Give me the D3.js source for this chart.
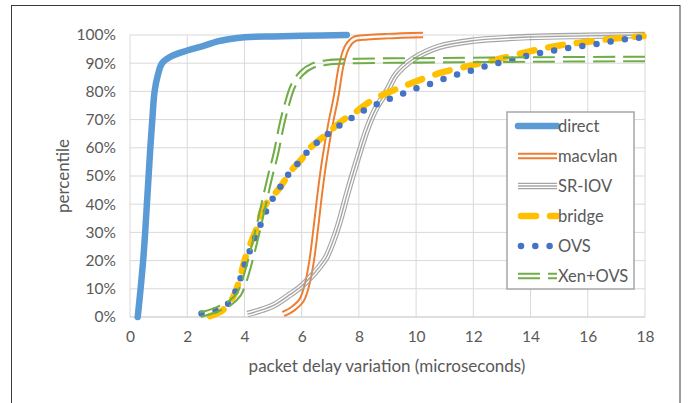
<!DOCTYPE html>
<html>
<head>
<meta charset="utf-8">
<script src="https://cdn.jsdelivr.net/npm/d3@7"></script>
<style>
  body { margin: 0; background: #fff; }
  svg { display: block; font-family: Lato, "Open Sans", sans-serif; }
</style>
</head>
<body>
<svg id="chart" width="696" height="403"></svg>
<script>
// 数据：每个系列是 [延迟(微秒), 百分位] 的点
const xTicks = [0, 2, 4, 6, 8, 10, 12, 14, 16, 18];
const yTicks = [0, 10, 20, 30, 40, 50, 60, 70, 80, 90, 100];

const direct = [[0.27,0],[0.37,10],[0.46,20],[0.53,30],[0.59,40],[0.65,50],[0.71,60],[0.78,70],[0.86,80],[0.98,86],[1.12,90],[1.45,92.5],[2.0,94.5],[2.6,96.2],[3.0,97.6],[3.5,98.6],[4.0,99.2],[5,99.5],[6,99.7],[7.58,100]];
const macvlan = [[5.35,1],[5.7,3],[6.0,6],[6.2,12],[6.35,20],[6.5,32],[6.65,45],[6.8,56],[7.0,68],[7.2,78],[7.4,90],[7.6,96],[7.85,98.6],[8.3,99.2],[9,99.6],[10.25,100]];
const sriov = [[4.1,1],[4.6,2.5],[5.0,4],[5.6,8],[6.0,11],[6.3,14],[6.6,17.5],[6.85,21],[7.1,27],[7.3,33],[7.6,44],[7.95,56],[8.3,67],[8.6,74],[9.0,80.5],[9.3,86],[9.9,91.5],[10.8,95.8],[12,98],[14,99.3],[16,99.7],[18,100]];
const bridge = [[2.8,0.3],[3.25,2.5],[3.6,7],[3.85,14],[4.0,20],[4.25,27],[4.45,32],[4.65,38.5],[5.0,43],[5.25,46],[5.6,51.5],[6.0,56],[6.3,60],[6.65,63],[7.0,66],[7.4,69.5],[7.9,72.8],[8.4,76.5],[9.0,79.5],[9.6,82],[10.25,84.5],[11,87],[12,89.4],[13,91.8],[14.1,94.5],[15,96.3],[16,97.6],[17,98.8],[17.95,99.6]];
const ovs = [[2.5,1.2],[3.0,2.4],[3.44,4.8],[3.7,9.3],[3.87,13.9],[4.02,19],[4.2,23.8],[4.39,28.5],[4.58,33.2],[4.78,38],[5.03,42.7],[5.3,46.8],[5.57,51],[5.91,55],[6.23,58.9],[6.6,62.4],[6.99,65.5],[7.42,68.6],[7.86,71.3],[8.3,73.9],[8.76,76],[9.2,77.9],[9.69,79.8],[10.16,81.7],[10.63,83.1],[11.12,85],[11.59,86.4],[12.09,87.8],[12.58,89.4],[13.07,90.5],[13.57,91.7],[14.06,93.1],[14.56,94],[15.05,94.9],[15.55,95.8],[16.05,96.4],[16.56,97.2],[17.07,98.2],[17.57,98.8],[17.93,99.2]];
const xenovs = [[2.45,0.8],[3.0,2.5],[3.5,5],[3.8,8],[3.97,12],[4.15,18],[4.4,28],[4.65,39],[4.9,50],[5.1,58],[5.3,68],[5.5,76],[5.7,82],[6.0,86.5],[6.4,89.2],[7.0,90.4],[8,90.8],[10,91],[14,91.3],[18,91.5]];

const seriesNames = ['direct', 'macvlan', 'SR-IOV', 'bridge', 'OVS', 'Xen+OVS'];
const seriesData = [direct, macvlan, sriov, bridge, ovs, xenovs];

const svg = d3.select('#chart');
const plotLeft = 130, plotRight = 645, plotTop = 35, plotBottom = 317;

const x = d3.scaleLinear().domain([0, 18]).range([plotLeft, plotRight]);
const y = d3.scaleLinear().domain([0, 100]).range([plotBottom, plotTop]);

// 外框
svg.append('rect')
  .attr('x', 11.5).attr('y', 5.5).attr('width', 668.5).attr('height', 410)
  .attr('fill', 'none').attr('stroke', '#3a3a3a').attr('stroke-width', 1);

// 网格
const grid = svg.append('g');
grid.selectAll('line.h').data(yTicks.filter(d => d > 0)).join('line')
  .attr('x1', plotLeft).attr('x2', plotRight)
  .attr('y1', d => y(d)).attr('y2', d => y(d))
  .attr('stroke', '#d9d9d9').attr('stroke-width', 1);
grid.selectAll('line.v').data(xTicks).join('line')
  .attr('x1', d => x(d)).attr('x2', d => x(d))
  .attr('y1', plotTop).attr('y2', plotBottom)
  .attr('stroke', '#d9d9d9').attr('stroke-width', 1);
grid.append('line')
  .attr('x1', plotLeft).attr('x2', plotRight).attr('y1', plotBottom).attr('y2', plotBottom)
  .attr('stroke', '#bfbfbf').attr('stroke-width', 1);

// 坐标轴（用 d3.axis 生成刻度文字，去掉刻度线）
const xAxis = svg.append('g').attr('transform', `translate(0,${plotBottom})`)
  .call(d3.axisBottom(x).tickValues(xTicks).tickSize(0).tickPadding(14));
const yAxis = svg.append('g').attr('transform', `translate(${plotLeft},0)`)
  .call(d3.axisLeft(y).tickValues(yTicks).tickSize(0).tickPadding(14).tickFormat(d => d + '%'));
[xAxis, yAxis].forEach(a => {
  a.select('.domain').remove();
  a.selectAll('text').attr('fill', '#595959').style('font-size', '15.5px')
    .style('font-family', 'Lato, "Open Sans", sans-serif');
});

svg.append('text')
  .attr('x', 387).attr('y', 372)
  .attr('text-anchor', 'middle').attr('fill', '#595959')
  .style('font-size', '17px')
  .text('packet delay variation (microseconds)');
svg.append('text')
  .attr('transform', `translate(69,${(plotTop + plotBottom) / 2}) rotate(-90)`)
  .attr('text-anchor', 'middle').attr('fill', '#595959')
  .style('font-size', '17px')
  .text('percentile');

const line = d3.line().x(d => x(d[0])).y(d => y(d[1])).curve(d3.curveCatmullRom.alpha(0.5));
const defs = svg.append('defs');

// 复合线：用 mask 挖空中间，做出双线/三线效果
function compound(g, pathD, id, color, outer, inner, mid, dash) {
  const m = defs.append('mask').attr('id', id).attr('maskUnits', 'userSpaceOnUse')
    .attr('x', 0).attr('y', 0).attr('width', 696).attr('height', 403);
  m.append('path').attr('d', pathD).attr('fill', 'none').attr('stroke', '#fff').attr('stroke-width', outer + 2);
  m.append('path').attr('d', pathD).attr('fill', 'none').attr('stroke', '#000').attr('stroke-width', inner);
  if (mid) m.append('path').attr('d', pathD).attr('fill', 'none').attr('stroke', '#fff').attr('stroke-width', mid);
  g.append('path').attr('d', pathD).attr('fill', 'none')
    .attr('stroke', color).attr('stroke-width', outer)
    .attr('stroke-dasharray', dash || null)
    .attr('mask', `url(#${id})`);
}

function drawSeries(g, i, pathD, tag) {
  const name = seriesNames[i];
  if (name === 'direct') {
    g.append('path').attr('d', pathD).attr('fill', 'none')
      .attr('stroke', '#5b9bd5').attr('stroke-width', 6.5).attr('stroke-linecap', 'round');
  } else if (name === 'macvlan') {
    compound(g, pathD, 'm-mac' + tag, '#ed7d31', 6.5, 2.6);
  } else if (name === 'SR-IOV') {
    compound(g, pathD, 'm-sr' + tag, '#a5a5a5', 6.5, 4.2, 1.4);
  } else if (name === 'bridge') {
    g.append('path').attr('d', pathD).attr('fill', 'none')
      .attr('stroke', '#ffc000').attr('stroke-width', 6.5)
      .attr('stroke-linecap', 'round').attr('stroke-dasharray', '15,14');
  } else if (name === 'OVS') {
    g.append('path').attr('d', pathD).attr('fill', 'none')
      .attr('stroke', '#4472c4').attr('stroke-width', 6.5)
      .attr('stroke-linecap', 'round').attr('stroke-dasharray', '0,14.3');
  } else {
    compound(g, pathD, 'm-xen' + tag, '#70ad47', 6.5, 2.4, 0, '22,8');
  }
}

const plot = svg.append('g');
seriesData.forEach((data, i) => drawSeries(plot, i, line(data), ''));

// 图例
const legend = svg.append('g');
legend.append('rect')
  .attr('x', 507).attr('y', 112).attr('width', 127).attr('height', 177)
  .attr('fill', '#fff').attr('stroke', '#a6a6a6').attr('stroke-width', 1.5);
seriesNames.forEach((name, i) => {
  const ly = 126 + i * 30;
  const lg = legend.append('g');
  const sx0 = name === 'bridge' || name === 'OVS' ? 521 : 518;
  drawSeries(lg, i, `M${sx0},${ly}L557,${ly}`, 'leg' + i);
  lg.append('text').attr('x', 558).attr('y', ly + 5.5)
    .attr('fill', '#595959').style('font-size', '16.5px').text(name);
});
</script>
</body>
</html>
